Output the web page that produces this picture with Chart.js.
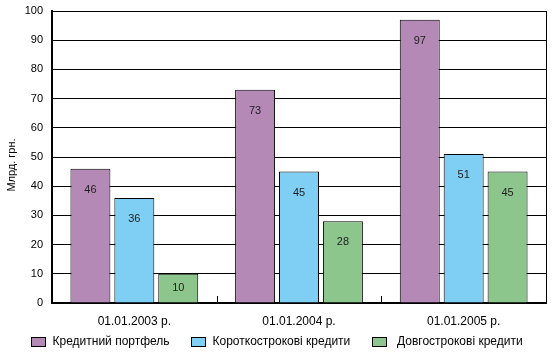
<!DOCTYPE html>
<html><head><meta charset="utf-8">
<script src="https://cdn.jsdelivr.net/npm/chart.js@4"></script>
<style>html,body{margin:0;padding:0;background:#fff}#wrap{width:554px;height:357px;position:relative}</style>
</head><body><div id="wrap"><canvas id="c"></canvas></div>
<script>
const categories = ['01.01.2003 р.', '01.01.2004 р.', '01.01.2005 р.'];
const seriesNames = ['Кредитний портфель', 'Короткострокові кредити', 'Довгострокові кредити'];
const portfolio = [46, 73, 97];
const shortTerm = [36, 45, 51];
const longTerm = [10, 28, 45];
const yTickValues = [0, 10, 20, 30, 40, 50, 60, 70, 80, 90, 100];
const yTitle = 'Млрд. грн.';

const colors = ['#B589B6', '#7ECFF3', '#8DC68D'];
const FONT = '"Liberation Sans", Arial, sans-serif';
const legendBoxX = [31.5, 191.5, 372.5];
const legendTextX = [52.5, 212.5, 397];

const framePlugin = {
  id: 'frame',
  afterDatasetsDraw(chart) {
    const {ctx, chartArea: a, scales: {x}} = chart;
    ctx.save();
    ctx.strokeStyle = '#000';
    ctx.lineWidth = 1;
    ctx.beginPath();
    ctx.moveTo(Math.round(a.right) + 0.5, a.top);
    ctx.lineTo(Math.round(a.right) + 0.5, a.bottom);
    for (let i = 1; i < categories.length; i++) {
      const bx = Math.round((x.getPixelForValue(i - 1) + x.getPixelForValue(i)) / 2) + 0.5;
      ctx.moveTo(bx, a.bottom);
      ctx.lineTo(bx, a.bottom - 7);
    }
    ctx.stroke();
    ctx.fillStyle = '#222';
    ctx.font = '11px ' + FONT;
    ctx.textAlign = 'center';
    ctx.textBaseline = 'middle';
    chart.data.datasets.forEach((ds, di) => {
      const meta = chart.getDatasetMeta(di);
      meta.data.forEach((el, i) => {
        const y = Math.min(el.y + 21, (el.y + el.base) / 2);
        ctx.fillText(String(ds.data[i]), el.x, y);
      });
    });
    ctx.restore();
  },
  afterDraw(chart) {
    const {ctx} = chart;
    ctx.save();
    ctx.font = '12px ' + FONT;
    ctx.textBaseline = 'middle';
    ctx.textAlign = 'left';
    chart.data.datasets.forEach((ds, i) => {
      ctx.fillStyle = ds.backgroundColor;
      ctx.fillRect(legendBoxX[i], 337.5, 14, 9);
      ctx.strokeStyle = '#000';
      ctx.lineWidth = 1;
      ctx.strokeRect(legendBoxX[i], 337.5, 14, 9);
      ctx.fillStyle = '#000';
      ctx.fillText(ds.label, legendTextX[i], 342);
    });
    ctx.translate(12, 165);
    ctx.rotate(-Math.PI / 2);
    ctx.font = '11px ' + FONT;
    ctx.textAlign = 'center';
    ctx.fillText(yTitle, 0, 0);
    ctx.restore();
  }
};

new Chart(document.getElementById('c'), {
  type: 'bar',
  data: {
    labels: categories,
    datasets: [
      {label: seriesNames[0], data: portfolio, backgroundColor: colors[0]},
      {label: seriesNames[1], data: shortTerm, backgroundColor: colors[1]},
      {label: seriesNames[2], data: longTerm, backgroundColor: colors[2]}
    ].map(d => Object.assign(d, {borderColor: '#000', borderWidth: 1, borderSkipped: 'bottom',
      categoryPercentage: 0.8, barPercentage: 0.91}))
  },
  options: {
    responsive: true,
    maintainAspectRatio: false,
    animation: false,
    devicePixelRatio: 1,
    layout: {padding: {top: 11, right: 8, bottom: 28, left: 0}},
    plugins: {legend: {display: false}, tooltip: {enabled: false}},
    scales: {
      x: {
        grid: {display: false},
        border: {display: true, color: '#000', width: 2},
        ticks: {font: {family: FONT, size: 12}, color: '#000', padding: 3, maxRotation: 0},
        afterFit(s) { s.height = 26; s.paddingLeft = 0; s.paddingRight = 0; }
      },
      y: {
        min: 0, max: 100,
        afterBuildTicks(s) { s.ticks = yTickValues.map(v => ({value: v})); },
        grid: {color: '#000', lineWidth: 1, drawTicks: false},
        border: {display: true, color: '#000', width: 2},
        ticks: {font: {family: FONT, size: 11}, color: '#000', padding: 9},
        afterFit(s) { s.width = 52; s.paddingTop = 0; s.paddingBottom = 0; }
      }
    }
  },
  plugins: [framePlugin]
});
</script></body></html>
